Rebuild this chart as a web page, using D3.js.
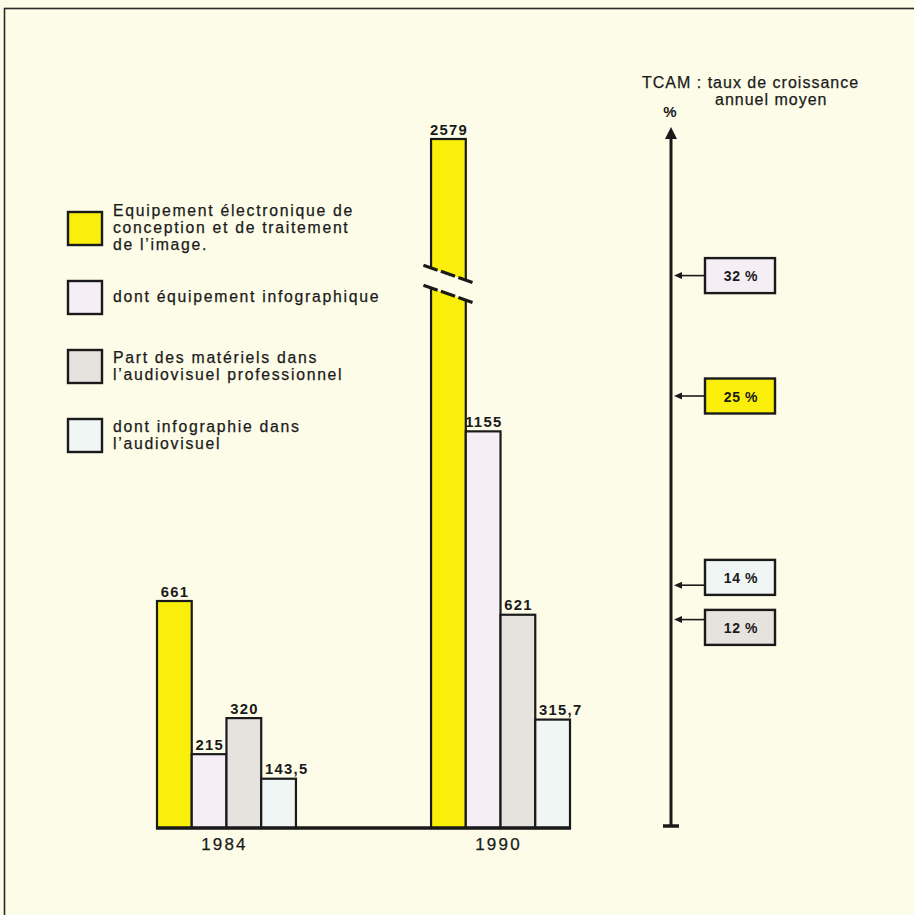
<!DOCTYPE html>
<html>
<head>
<meta charset="utf-8">
<script src="https://cdn.jsdelivr.net/npm/d3@7"></script>
<style>
  html, body { margin: 0; padding: 0; background: #fdfce8; }
  svg { display: block; }
  text { font-family: "Liberation Sans", Arial, Helvetica, sans-serif; fill: #1a1a1a; }
  text.heavy { stroke: #1a1a1a; stroke-width: 0.25; }
</style>
</head>
<body>
<svg id="chart" width="914" height="915"></svg>
<script>
// ---------- DATA ----------
const years = ["1984", "1990"];
const seriesNames = [
  ["Equipement électronique de", "conception et de traitement", "de l’image."],
  ["dont équipement infographique"],
  ["Part des matériels dans", "l’audiovisuel professionnel"],
  ["dont infographie dans", "l’audiovisuel"]
];
const values1984 = [661, 215, 320, 143.5];
const values1990 = [2579, 1155, 621, 315.7];
// TCAM (taux de croissance annuel moyen), in %, per series
const tcamSeries = [1, 0, 3, 2];
const tcamValues = [32, 25, 14, 12];
const tcamTitle = ["TCAM : taux de croissance", "annuel moyen"];
const tcamUnit = "%";
// axis break on the value scale
const breakValues = [1555, 2186];

// ---------- STYLE ----------
const BG = "#fdfce8";
const INK = "#1a1a1a";
const colors = ["#f9ef0a", "#f5eff5", "#e6e3de", "#eff6f4"];

const svg = d3.select("#chart");
svg.append("rect").attr("width", 914).attr("height", 915).attr("fill", BG);

// frame
svg.append("rect").attr("x", 4.5).attr("y", 8.5).attr("width", 940).attr("height", 940)
  .attr("fill", "none").attr("stroke", "#2a2a2a").attr("stroke-width", 1.6);

// ---------- SCALES ----------
const baseY = 828;
const y = d3.scaleLinear()
  .domain([0, breakValues[0], breakValues[1], 2579])
  .range([baseY, 294, 274, 139]);

const x0 = d3.scaleBand().domain(years).range([157, 570]).paddingInner(0.493).paddingOuter(0);
const x1 = d3.scaleBand().domain(d3.range(4)).range([0, x0.bandwidth()]).padding(0);

const data = years.map((yr, gi) => ({
  year: yr,
  values: (gi === 0 ? values1984 : values1990)
}));

const fmt = v => String(v).replace(".", ",");

// ---------- BARS ----------
const groups = svg.selectAll("g.year").data(data).join("g")
  .attr("class", "year")
  .attr("transform", d => `translate(${x0(d.year)},0)`);

groups.selectAll("rect.bar").data(d => d.values.map((v, i) => ({ v, i }))).join("rect")
  .attr("class", "bar")
  .attr("x", d => x1(d.i))
  .attr("y", d => y(d.v))
  .attr("width", x1.bandwidth())
  .attr("height", d => y(0) - y(d.v))
  .attr("fill", d => colors[d.i])
  .attr("stroke", INK)
  .attr("stroke-width", 2.2);

// value labels: integer part centred on bar
groups.each(function (d) {
  const g = d3.select(this);
  d.values.forEach((v, i) => {
    const s = fmt(v);
    const parts = s.split(",");
    const cx = x1(i) + x1.bandwidth() / 2;
    const t = g.append("text")
      .attr("y", y(v) - 4.5)
      .attr("font-size", 14.8)
      .attr("font-weight", "bold")
      .attr("letter-spacing", 1.3);
    t.text(parts[0]);
    const w = t.node().getComputedTextLength() - 1.3;
    if (parts.length > 1) t.text(s);
    t.attr("x", cx - w / 2);
  });
});

// break marks on bars exceeding the break
const slope = 0.35;
data.forEach(d => {
  d.values.forEach((v, i) => {
    if (v <= breakValues[1]) return;
    const bx = x0(d.year) + x1(i);
    const bw = x1.bandwidth();
    const cx = bx + bw / 2;
    const yHi = y(breakValues[1]);
    const yLo = y(breakValues[0]);
    const lineY = (yc, x) => yc + (x - cx) * slope;
    svg.append("polygon")
      .attr("points", [
        [bx - 2, lineY(yHi, bx - 2)], [bx + bw + 2, lineY(yHi, bx + bw + 2)],
        [bx + bw + 2, lineY(yLo, bx + bw + 2)], [bx - 2, lineY(yLo, bx - 2)]
      ].map(p => p.join(",")).join(" "))
      .attr("fill", BG);
    [yHi, yLo].forEach(yc => {
      svg.append("line")
        .attr("x1", cx - 25).attr("y1", lineY(yc, cx - 25))
        .attr("x2", cx + 25).attr("y2", lineY(yc, cx + 25))
        .attr("stroke", INK).attr("stroke-width", 3.2)
        .attr("stroke-dasharray", "15,3.5");
    });
  });
});

// baseline
svg.append("line")
  .attr("x1", x0.range()[0] - 1).attr("x2", x0.range()[1] + 1)
  .attr("y1", y(0)).attr("y2", y(0))
  .attr("stroke", INK).attr("stroke-width", 3.5);

// year labels
svg.selectAll("text.yr").data(years).join("text")
  .attr("class", "yr heavy")
  .attr("x", d => x0(d) + x0.bandwidth() / 2 - 2)
  .attr("y", 850)
  .attr("text-anchor", "middle")
  .attr("font-size", 17)
  .attr("letter-spacing", 2.2)
  .text(d => d);

// ---------- LEGEND ----------
const legendTop = 212, legendStep = 69, lineH = 17;
seriesNames.forEach((lines, i) => {
  const top = legendTop + i * legendStep;
  svg.append("rect")
    .attr("x", 68).attr("y", top).attr("width", 34).attr("height", 33)
    .attr("fill", colors[i]).attr("stroke", INK).attr("stroke-width", 2.4);
  const center = top + 17;
  const first = center - (lines.length - 1) * lineH / 2 + 4;
  lines.forEach((ln, k) => {
    svg.append("text")
      .attr("class", "heavy")
      .attr("x", 113).attr("y", first + k * lineH)
      .attr("font-size", 15.8)
      .attr("letter-spacing", 1.7)
      .text(ln);
  });
});

// ---------- TCAM AXIS ----------
const axisX = 671;
const y2 = d3.scaleLinear().domain([0, 40]).range([826, 138]);

svg.append("line")
  .attr("x1", axisX).attr("x2", axisX)
  .attr("y1", y2(0)).attr("y2", y2(40) - 1)
  .attr("stroke", INK).attr("stroke-width", 3);
svg.append("path")
  .attr("d", `M${axisX},${y2(40) - 11} L${axisX - 6},${y2(40) + 1} L${axisX + 6},${y2(40) + 1} Z`)
  .attr("fill", INK);
svg.append("line")
  .attr("x1", axisX - 8).attr("x2", axisX + 8)
  .attr("y1", y2(0)).attr("y2", y2(0))
  .attr("stroke", INK).attr("stroke-width", 3.5);

svg.append("text").attr("x", axisX - 1).attr("y", 117)
  .attr("text-anchor", "middle").attr("font-size", 15).attr("font-weight", "bold")
  .text(tcamUnit);

svg.append("text").attr("class", "heavy").attr("x", 642).attr("y", 88)
  .attr("font-size", 16).attr("letter-spacing", 1.0).text(tcamTitle[0]);
svg.append("text").attr("class", "heavy").attr("x", 715).attr("y", 105)
  .attr("font-size", 16).attr("letter-spacing", 1.0).text(tcamTitle[1]);

// boxes, spread apart when too close
const boxH = 35, boxW = 70, boxX = 705, minGap = 15;
const items = tcamValues.map((v, k) => ({ v, s: tcamSeries[k], ay: y2(v) }))
  .sort((a, b) => a.ay - b.ay);
items.forEach(d => d.cy = d.ay);
for (let k = 1; k < items.length; k++) {
  const need = boxH + minGap;
  const dist = items[k].cy - items[k - 1].cy;
  if (dist < need) {
    const push = (need - dist) / 2;
    items[k - 1].cy -= push;
    items[k].cy += push;
  }
}
items.forEach(d => {
  // arrow
  svg.append("line")
    .attr("x1", boxX).attr("x2", axisX + 9)
    .attr("y1", d.ay).attr("y2", d.ay)
    .attr("stroke", INK).attr("stroke-width", 1.6);
  svg.append("path")
    .attr("d", `M${axisX + 3},${d.ay} L${axisX + 11},${d.ay - 3.5} L${axisX + 11},${d.ay + 3.5} Z`)
    .attr("fill", INK);
  svg.append("rect")
    .attr("x", boxX).attr("y", d.cy - boxH / 2)
    .attr("width", boxW).attr("height", boxH)
    .attr("fill", colors[d.s]).attr("stroke", INK).attr("stroke-width", 2.4);
  svg.append("text")
    .attr("x", boxX + boxW / 2 + 1).attr("y", d.cy + 5.5)
    .attr("text-anchor", "middle")
    .attr("font-size", 14).attr("font-weight", "bold").attr("letter-spacing", 0.6)
    .text(`${d.v} %`);
});
</script>
</body>
</html>
